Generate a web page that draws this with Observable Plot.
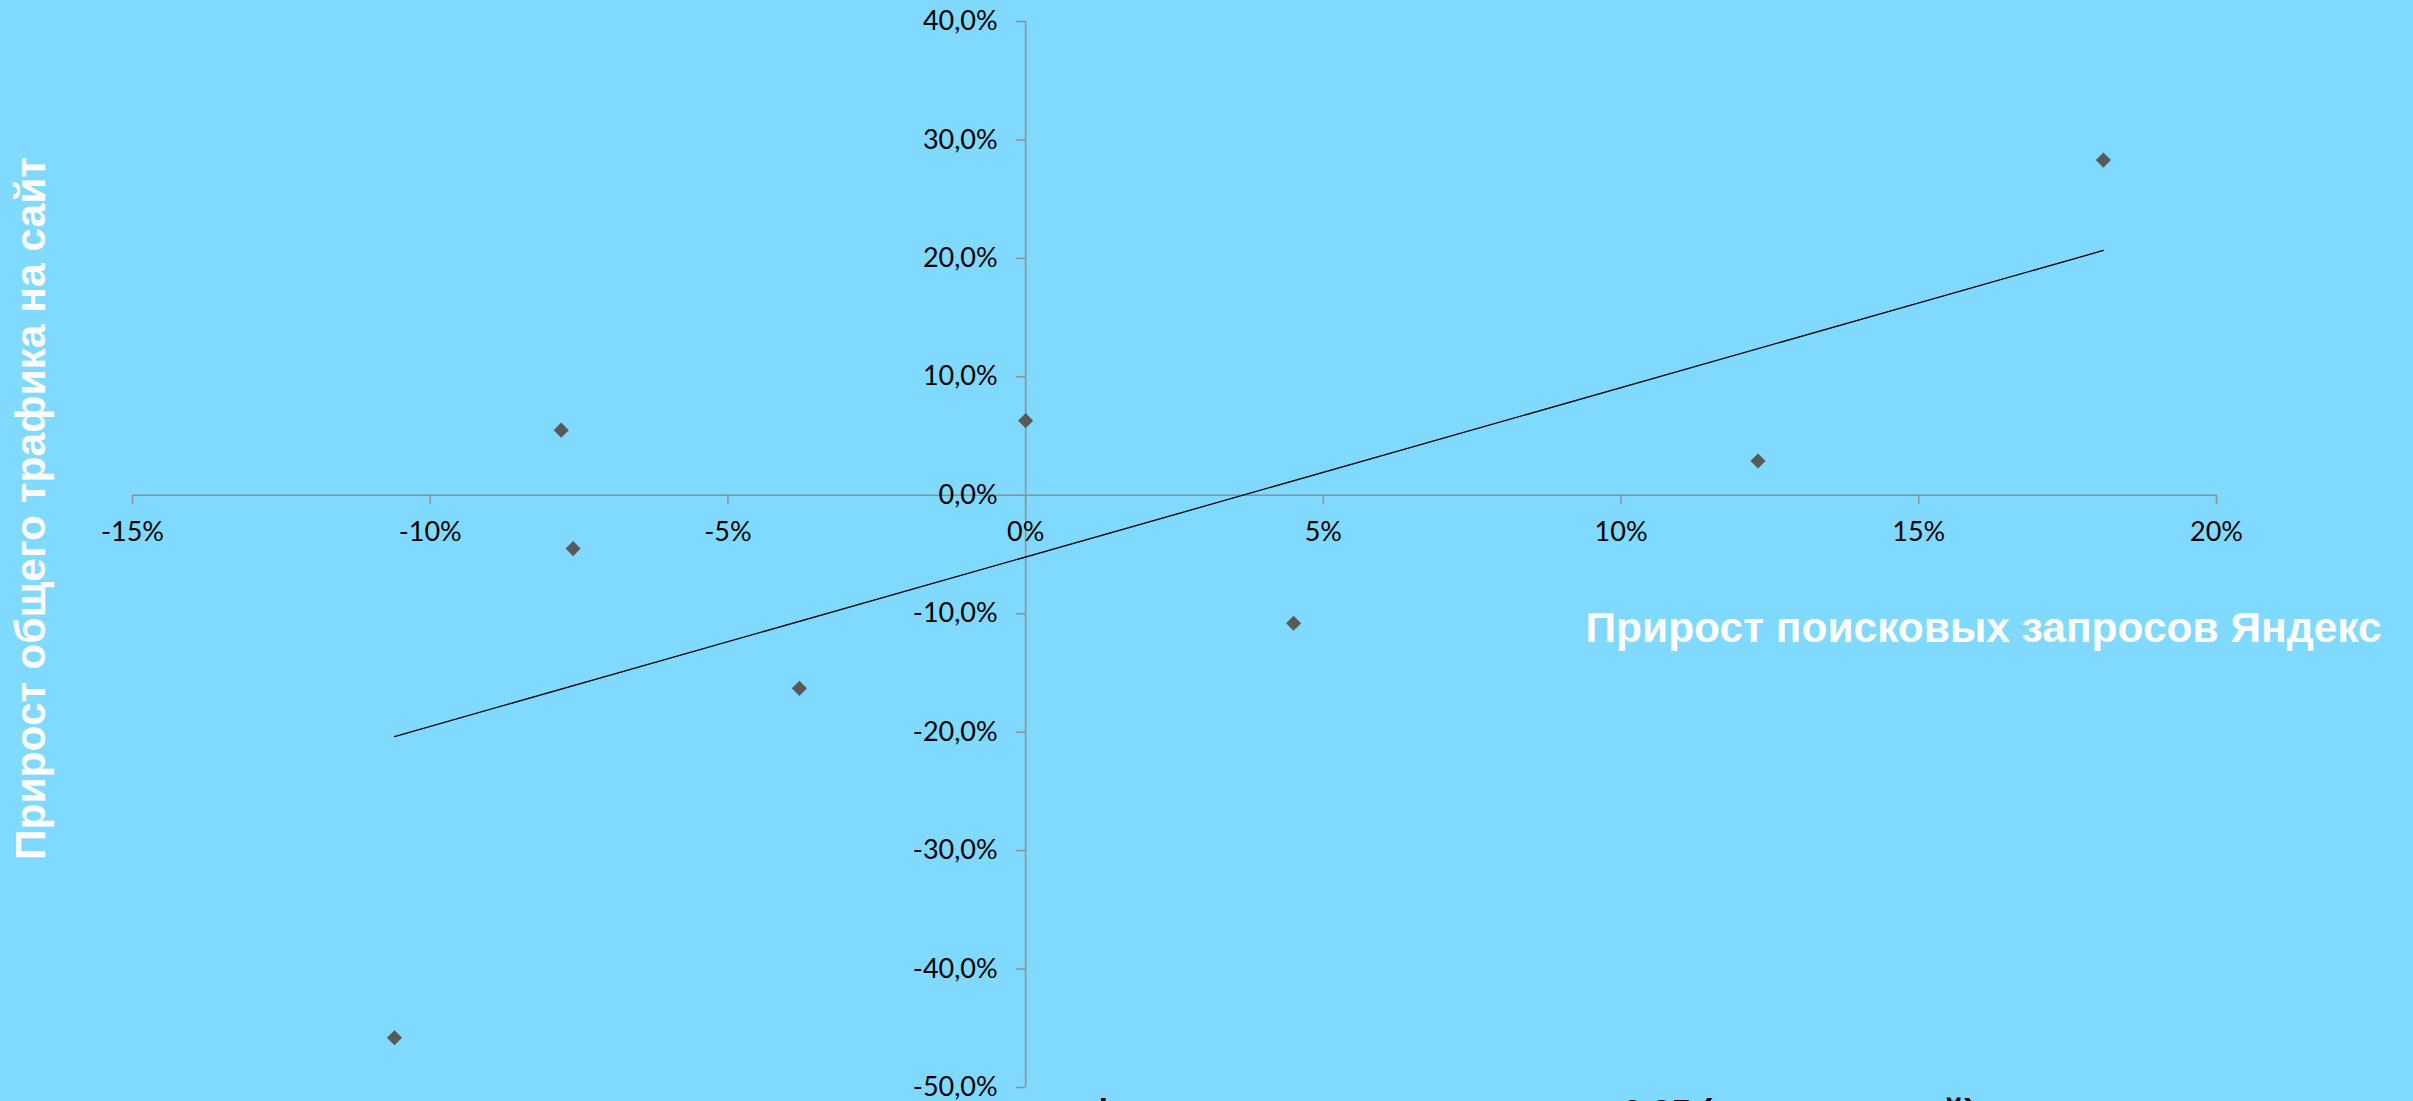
<!DOCTYPE html>
<html>
<head>
<meta charset="utf-8">
<script src="https://cdn.jsdelivr.net/npm/d3@7"></script>
<script src="https://cdn.jsdelivr.net/npm/@observablehq/plot@0.6"></script>
<style>
  html, body { margin: 0; padding: 0; background: #80D9FF; overflow: hidden; }
  #chart svg { display: block; }
</style>
</head>
<body>
<div id="chart"></div>
<script>
// Data
const searchGrowth  = [-0.106, -0.078, -0.076, -0.038, 0.000, 0.045, 0.123, 0.181];
const trafficGrowth = [-0.458,  0.055, -0.045, -0.163, 0.063, -0.108, 0.029, 0.283];

const xTicks = [-0.15, -0.10, -0.05, 0, 0.05, 0.10, 0.15, 0.20];
const xTickLabels = ["-15%", "-10%", "-5%", "0%", "5%", "10%", "15%", "20%"];
const yTicks = [0.4, 0.3, 0.2, 0.1, 0, -0.1, -0.2, -0.3, -0.4, -0.5];
const yTickLabels = ["40,0%", "30,0%", "20,0%", "10,0%", "0,0%", "-10,0%", "-20,0%", "-30,0%", "-40,0%", "-50,0%"];

const xTitle = "Прирост поисковых запросов Яндекс";
const yTitle = "Прирост общего трафика на сайт";
const caption = "связь трафика и поисковых запросов = 0,95 (значительный)";

const points = searchGrowth.map((x, i) => ({x, y: trafficGrowth[i]}));
const xt = xTicks.map((v, i) => ({v, label: xTickLabels[i]}));
const yt = yTicks.map((v, i) => ({v, label: yTickLabels[i]}));

const W = 2413, H = 1101;
const mL = 132, mR = 197, mT = 21, mB = 14;
const axisColor = "#8f8f8f";
const tickFont = "Lato, 'Open Sans', sans-serif";
const titleFont = "'Liberation Sans', Arial, sans-serif";

const chart = Plot.plot({
  width: W,
  height: H,
  marginLeft: mL,
  marginRight: mR,
  marginTop: mT,
  marginBottom: mB,
  x: {domain: [-0.15, 0.20], axis: null},
  y: {domain: [-0.5, 0.4], axis: null},
  style: {background: "#80D9FF", overflow: "visible"},
  marks: [
    // axes crossing at zero
    Plot.ruleY([0], {stroke: axisColor, strokeWidth: 1.5}),
    Plot.ruleX([0], {stroke: axisColor, strokeWidth: 1.5}),
    // tick marks
    Plot.ruleX(xt, {x: "v", y1: 0, y2: 0, insetBottom: -9, stroke: axisColor, strokeWidth: 1.5}),
    Plot.ruleY(yt, {y: "v", x1: 0, x2: 0, insetLeft: -9, stroke: axisColor, strokeWidth: 1.5}),
    // tick labels
    Plot.text(xt, {x: "v", y: 0, text: "label", dy: 37, fontSize: 27, fontFamily: tickFont, fill: "#000"}),
    Plot.text(yt, {x: 0, y: "v", text: "label", dx: -28, textAnchor: "end", fontSize: 27, fontFamily: tickFont, fill: "#000"}),
    // trend line
    Plot.linearRegressionY(points, {x: "x", y: "y", ci: 0, stroke: "#000", strokeWidth: 1.3}),
    // points
    Plot.dot(points, {x: "x", y: "y", symbol: "diamond2", r: 6.8, fill: "#595959", stroke: "none"}),
    // axis titles
    Plot.text([xTitle], {frameAnchor: "top-left", dx: 1585 - mL, dy: 611 - mT, textAnchor: "start",
      fontSize: 42.5, fontWeight: "bold", fontFamily: titleFont, fill: "#fff"}),
    Plot.text([yTitle], {frameAnchor: "left", dx: 31 - mL, dy: 508 - (mT + H - mB) / 2, rotate: -90,
      textAnchor: "middle", fontSize: 42.5, fontWeight: "bold", fontFamily: titleFont, fill: "#fff"}),
    // caption (cut off at the bottom edge)
    Plot.text([caption], {frameAnchor: "bottom-left", dx: 920 - mL, dy: 1123 - (H - mB), textAnchor: "start",
      lineAnchor: "bottom", fontSize: 35, fontWeight: "bold", fontFamily: titleFont, fill: "#000"})
  ]
});
document.getElementById("chart").appendChild(chart);
</script>
</body>
</html>
